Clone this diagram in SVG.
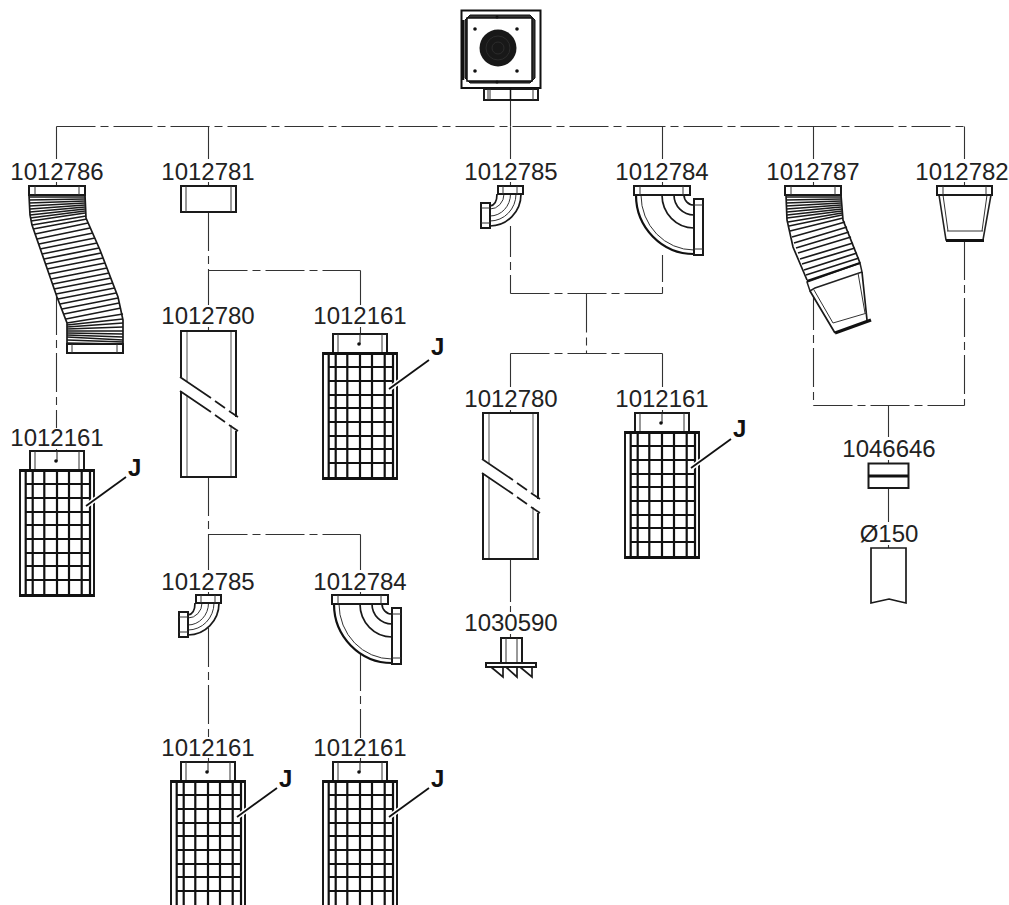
<svg xmlns="http://www.w3.org/2000/svg" width="1009" height="905" viewBox="0 0 1009 905">
<style>
text{font-family:"Liberation Sans",Arial,sans-serif;fill:#222}
.l{font-size:24px;text-anchor:middle}
.j{font-size:24px;font-weight:bold;fill:#111}
.c{fill:none;stroke:#333;stroke-width:1.100}
.dd{stroke-dasharray:39 5 8 5}
.o{fill:#fff;stroke:#1a1a1a;stroke-width:2}
.t{fill:none;stroke:#333;stroke-width:1}
.m{fill:none;stroke:#1a1a1a;stroke-width:1.700}
.b{fill:none;stroke:#111;stroke-width:2.200}
.g{fill:none;stroke:#777;stroke-width:1.300}
</style>
<defs>
<g id="filter">
<rect class="o" x="-27" y="0" width="54" height="19"/>
<path class="t" d="M-22 0V19M22 0V19"/>
<path class="c" d="M0 0V10"/><circle cx="-1" cy="10" r="1.800" fill="#111"/>
<rect class="o" x="-37" y="19" width="74" height="126"/>
<path class="b" d="M-31.300 19V145M-24.300 19V145M-12.700 19V145M0 19V145M12 19V145M24.700 19V145M33 19V145"/>
<path class="b" d="M-31 33H33M-31 47H33M-31 61H33M-31 74H33M-31 88H33M-31 102H33M-31 115H33M-31 129H33"/>
<path fill="none" stroke="#111" stroke-width="2.800" d="M-37 19.500H37M-37 144.500H37"/>
<path fill="none" stroke="#fff" stroke-width="5" d="M29 55L69 26"/>
<path fill="none" stroke="#111" stroke-width="1.800" d="M29 55L69 26"/>
</g>
<g id="elbowS">
<path fill="#fff" stroke="none" d="M497 194H521A31 32 0 0 1 490 226V206Q497 205 497 194Z"/>
<path class="m" d="M521 194A31 32 0 0 1 490 226M497 194Q497 205 490 206"/>
<path class="t" d="M516 194A26 27 0 0 1 490 221M510.500 194A20.500 22 0 0 1 490 216M504 194A14 15 0 0 1 490 209"/>
<rect class="o" x="498" y="186" width="25" height="8"/>
<path class="t" d="M503 186V194M517 186V194"/>
<rect class="o" x="481" y="203" width="9" height="25"/>
<path class="t" d="M481 208H490M481 223H490"/>
</g>
<g id="elbowL">
<path fill="#fff" stroke="none" d="M636 195H685Q685 205 694 205V254A58 59 0 0 1 636 195Z"/>
<path class="b" d="M636 195A58 59 0 0 0 694 254"/>
<path class="t" d="M641 195A53 55 0 0 0 694 250"/>
<path class="m" d="M662 195A32 33 0 0 0 694 228M674 195A20 20 0 0 0 694 215M684 195A10 10 0 0 0 694 205"/>
<rect class="o" x="634" y="186" width="56" height="9"/>
<path class="t" d="M640 186V195M683 186V195"/>
<rect class="o" x="694" y="199" width="9" height="56"/>
<path class="t" d="M694 205H703M694 249H703"/>
</g>
<g id="tube">
<path fill="#fff" stroke="none" d="M483 413H538V559H483Z"/>
<path class="g" d="M489 413V463M533 413V493M489 477V559M533 507V559"/>
<path fill="none" stroke="#1a1a1a" stroke-width="2" d="M483 459V413H538V499M483 473V559H538V513"/>
<path class="m" d="M482 459L513 480M517 483L527 490M531 493L540 499M482 473L513 494M517 497L527 504M531 507L540 513"/>
</g>
</defs>
<g id="connectors">
<path class="c" d="M510.500 100V126.500"/>
<path class="c dd" d="M56.500 126.500H964.500"/>
<path class="c" d="M56.500 126.500V159M208.500 126.500V159M510.500 126.500V159M662.500 126.500V159M813.500 126.500V159M964.500 126.500V159"/>
<path class="c" d="M56.500 182V187M208.500 182V187M510.500 182V187M662.500 182V187M813.500 182V187M964.500 182V187"/>
<path class="c dd" d="M208.500 212V305"/>
<path class="c dd" d="M208.500 270.500H360.500"/>
<path class="c" d="M360.500 270.500V305M208.500 327V332M360.500 327V335"/>
<path class="c dd" d="M56.500 296V428"/>
<path class="c" d="M56.500 449V452"/>
<path class="c dd" d="M208.500 477V570"/>
<path class="c dd" d="M208.500 534.500H360.500"/>
<path class="c" d="M360.500 534.500V570M208.500 592V596M360.500 592V596"/>
<path class="c dd" d="M208.500 628V738"/>
<path class="c dd" d="M360.500 652V738"/>
<path class="c" d="M208.500 758V763M360.500 758V763"/>
<path class="c dd" stroke-dashoffset="8" d="M510.500 226V293.500"/>
<path class="c dd" stroke-dashoffset="12" d="M662.500 255V293.500"/>
<path class="c dd" d="M510.500 293.500H662.500"/>
<path class="c dd" d="M586.500 293.500V353.500"/>
<path class="c dd" d="M510.500 353.500H662.500"/>
<path class="c" d="M510.500 353.500V387M662.500 353.500V387M510.500 410V414M662.500 410V414"/>
<path class="c" d="M510.500 559V602M510.500 606V612M510.500 634V638"/>
<path class="c dd" d="M813.500 291V405.500"/>
<path class="c dd" d="M964.500 241V405.500"/>
<path class="c dd" d="M813.500 405.500H964.500"/>
<path class="c" d="M888.500 405.500V437M888.500 460V464M888.500 488V522M888.500 545V548"/>
</g>
<g id="unit">
<rect x="461.500" y="10.500" width="79" height="77.500" fill="#fff" stroke="#111" stroke-width="2"/>
<path fill="#333" stroke="#111" d="M465 20L470 15H530L535 20V78L530 83H470L465 78Z"/>
<rect x="467" y="18" width="65" height="63" fill="#fff" stroke="#111" stroke-width="1.500"/>
<path d="M463 20V80" stroke="#111" stroke-width="2.500"/>
<circle cx="498" cy="48" r="18.500" fill="#181818"/>
<circle cx="498" cy="48" r="12" fill="none" stroke="#333" stroke-width=".7"/>
<circle cx="498" cy="48" r="6" fill="none" stroke="#333" stroke-width=".7"/>
<circle cx="475" cy="29" r="1.800" fill="#111"/><circle cx="517" cy="29" r="1.800" fill="#111"/><circle cx="475" cy="71" r="1.800" fill="#111"/><circle cx="517" cy="71" r="1.800" fill="#111"/>
<circle cx="497" cy="17" r="1.500" fill="#111"/><circle cx="497" cy="82" r="1.500" fill="#111"/>
<rect class="o" x="484" y="89" width="54" height="11"/>
<path class="t" d="M488 89V100M490 89V100M533 89V100"/>
<path stroke="#111" stroke-width="1.500" d="M510.500 88V100"/>
</g>
<g id="n1012786">
<text class="l" x="57" y="180">1012786</text>
<path fill="#fff" stroke="none" d="M29 195L30 215L32 225L57 297L67 323V344H123V320L118 297L100 250L86 218L85 195Z"/>
<path class="m" d="M29 195L30 215L32 225L57 297L67 323V344M85 195L86 218L100 250L118 297L123 320V344"/>
<path class="m" d="M29 197L85 197M29 200L85 199M29 203L85 201M29 206L85 203M30 209L85 205M30 212L85 207M30 215L85 209M30 218L85 211M31 221L85 213M32 225L86 216M33 229L87 219M35 234L88 223M37 239L90 228M39 244L93 233M40 249L95 238M42 254L97 243M44 259L99 248M46 264L101 253M47 269L103 258M49 274L105 263M51 279L107 268M53 284L109 273M54 289L111 278M56 294L113 283M58 299L114.500 288M60 304L116 293M62 309L118 298M64 314L119 303M66 319L121 308M67 323L123 314M67 325L123 319M67 327L123 323M67 329L123 327M67 331L123 331M67 333L123 334M67 335L123 337M67 337L123 340M67 340L123 342M67 343L123 344"/>
<rect class="o" x="29" y="186" width="56" height="9"/>
<path class="t" d="M35 186V195M79 186V195"/>
<rect class="o" x="67" y="344" width="56" height="9"/>
<path class="t" d="M72 344V353M117 344V353"/>
</g>
<g id="n1012161a"><text class="l" x="57" y="446">1012161</text><use href="#filter" x="57" y="451"/><text class="j" x="128" y="476">J</text></g>
<g id="n1012781">
<text class="l" x="208" y="180">1012781</text>
<rect class="o" x="181" y="186" width="55" height="26"/>
<path class="t" d="M186 186V212M231 186V212"/>
</g>
<g id="n1012780a"><text class="l" x="208" y="324">1012780</text><use href="#tube" x="-302" y="-82"/></g>
<g id="n1012161b"><text class="l" x="360" y="324">1012161</text><use href="#filter" x="360" y="334"/><text class="j" x="431" y="355">J</text></g>
<g id="n1012785a"><text class="l" x="511" y="180">1012785</text><use href="#elbowS"/></g>
<g id="n1012784a"><text class="l" x="662" y="180">1012784</text><use href="#elbowL"/></g>
<g id="n1012785b"><text class="l" x="208" y="590">1012785</text><use href="#elbowS" x="-302" y="409"/></g>
<g id="n1012784b"><text class="l" x="360" y="590">1012784</text><use href="#elbowL" x="-302" y="409"/></g>
<g id="n1012161c"><text class="l" x="208" y="756">1012161</text><use href="#filter" x="208" y="762"/><text class="j" x="279" y="787">J</text></g>
<g id="n1012161d"><text class="l" x="360" y="756">1012161</text><use href="#filter" x="360" y="762"/><text class="j" x="431" y="787">J</text></g>
<g id="n1012780b"><text class="l" x="511" y="407">1012780</text><use href="#tube"/></g>
<g id="n1012161e"><text class="l" x="662" y="407">1012161</text><use href="#filter" x="662" y="413"/><text class="j" x="733" y="437">J</text></g>
<g id="n1030590">
<text class="l" x="511" y="631">1030590</text>
<rect class="o" x="501" y="638" width="21" height="25"/>
<path class="t" d="M506 638V663M517 638V663"/>
<rect class="o" x="486" y="663" width="50" height="4"/>
<path class="m" d="M491 667L503 677V667M506 667L517 677V667M520 667L532 677V667"/>
</g>
<g id="n1012787">
<text class="l" x="813" y="180">1012787</text>
<path fill="#fff" stroke="none" d="M786 195L787 220L793 247L807 280L810 291L835 333L871 320L867 313L862 272L860 263L843 220L841 195Z"/>
<path class="m" d="M786 195L787 220L793 247L807 280M841 195L843 220L860 263"/>
<path class="m" d="M786 197L841 197M786 200L841 199M786 203L841 201M786 206L841 203M786.500 209L841 205M787 212L841 207M787 215L842 209M787 218L842 211M788 222L842 213M789 226L842 215M790 231L843 218M792 237L845 222M794 243L847 227M796 248L849 232M798 253L851 237M800 259L853 243M802 264L855 248M804 270L857 253M806 275L859 258"/>
<path fill="#fff" stroke="#222" stroke-width="1.500" d="M807 282L860 263L862 272L815 288L810 291Z"/>
<path fill="none" stroke="#111" stroke-width="2.200" d="M807 281L860 263"/>
<path class="m" d="M810 291L835 333M862 272L867 320"/>
<path class="t" d="M814 290L833 323M858 273L865 313M833 323L867 313"/>
<path fill="none" stroke="#111" stroke-width="3.400" d="M835 333L871 320"/>
<rect class="o" x="785" y="186" width="56" height="9"/>
<path class="t" d="M791 186V195M835 186V195"/>
</g>
<g id="n1012782">
<text class="l" x="962" y="180">1012782</text>
<path fill="#fff" stroke="#222" stroke-width="1.600" d="M939 195L946 240H983L991 195Z"/>
<path class="t" d="M943 195L948 231M987 195L982 231M947 231H983"/>
<path fill="none" stroke="#111" stroke-width="3" d="M946 240.500H984"/>
<rect class="o" x="937" y="186" width="55" height="9"/>
<path class="t" d="M943 186V195M986 186V195"/>
</g>
<g id="n1046646">
<text class="l" x="889" y="457">1046646</text>
<rect x="868.500" y="463.500" width="40" height="24.500" fill="#fff" stroke="#1a1a1a" stroke-width="2"/>
<path stroke="#111" stroke-width="3" d="M868 476H908"/>
</g>
<g id="n150">
<text class="l" x="889" y="542">Ø150</text>
<path fill="#fff" stroke="#1a1a1a" stroke-width="1.700" d="M871 603V548H906V603Q897 601 889 599Q880 601 871 603Z"/>
</g>
</svg>
